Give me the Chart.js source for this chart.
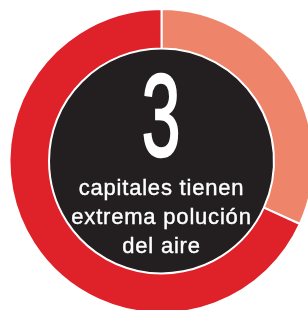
<!DOCTYPE html>
<html>
<head>
<meta charset="utf-8">
<script src="https://cdn.jsdelivr.net/npm/chart.js@4"></script>
<style>
  html, body { margin: 0; padding: 0; background: #fff; overflow: hidden; width: 308px; height: 310px; }
  #wrap { position: absolute; left: 0; top: 0; width: 323px; height: 322px; }
</style>
</head>
<body>
<div id="wrap"><canvas id="donutChart"></canvas></div>
<script>
// Categories and values (share of capitals)
var categories = ["Extrema polución", "Resto"];
var values = [31.8, 68.2];
var colors = ["#EE846A", "#DF2129"];

// Center text
var bigNumber = "3";
var captionLines = ["capitales tienen", "extrema polución", "del aire"];

// Fill the hole with the dark disc before the arcs are drawn
var centerDisc = {
    id: "centerDisc",
    beforeDatasetsDraw: function (chart) {
        var arc = chart.getDatasetMeta(0).data[0];
        if (!arc) return;
        var ctx = chart.ctx;
        ctx.save();
        ctx.beginPath();
        ctx.arc(arc.x, arc.y, arc.innerRadius, 0, Math.PI * 2);
        ctx.fillStyle = "#231F20";
        ctx.fill();
        ctx.restore();
    },
    afterDatasetsDraw: function (chart) {
        var arc = chart.getDatasetMeta(0).data[0];
        if (!arc) return;
        var ctx = chart.ctx;
        var cx = arc.x, cy = arc.y;
        ctx.save();
        ctx.fillStyle = "#ffffff";
        ctx.strokeStyle = "#ffffff";
        ctx.textAlign = "center";
        ctx.textBaseline = "alphabetic";

        // big condensed number
        ctx.save();
        ctx.translate(cx - 0.5, cy - 5);
        ctx.scale(0.6, 1);
        ctx.font = "116px 'Liberation Sans', Arial, sans-serif";
        ctx.lineWidth = 2.5;
        ctx.fillText(bigNumber, 0, 0);
        ctx.strokeText(bigNumber, 0, 0);
        ctx.restore();

        // caption
        ctx.font = "22px 'Liberation Sans', Arial, sans-serif";
        ctx.letterSpacing = "0.8px";
        ctx.lineWidth = 0.4;
        var y0 = cy + 34;
        captionLines.forEach(function (line, i) {
            ctx.fillText(line, cx, y0 + i * 29);
            ctx.strokeText(line, cx, y0 + i * 29);
        });
        ctx.restore();
    }
};

var ctx = document.getElementById("donutChart").getContext("2d");
var chart = new Chart(ctx, {
    type: "doughnut",
    data: {
        labels: categories,
        datasets: [{
            data: values,
            backgroundColor: colors,
            borderColor: "#ffffff",
            borderWidth: 2
        }]
    },
    options: {
        responsive: true,
        maintainAspectRatio: false,
        animation: false,
        cutout: "74%",
        layout: { padding: { left: 8, top: 8, right: 8, bottom: 8 } },
        plugins: {
            legend: { display: false },
            tooltip: { enabled: false }
        }
    },
    plugins: [centerDisc]
});
</script>
</body>
</html>
